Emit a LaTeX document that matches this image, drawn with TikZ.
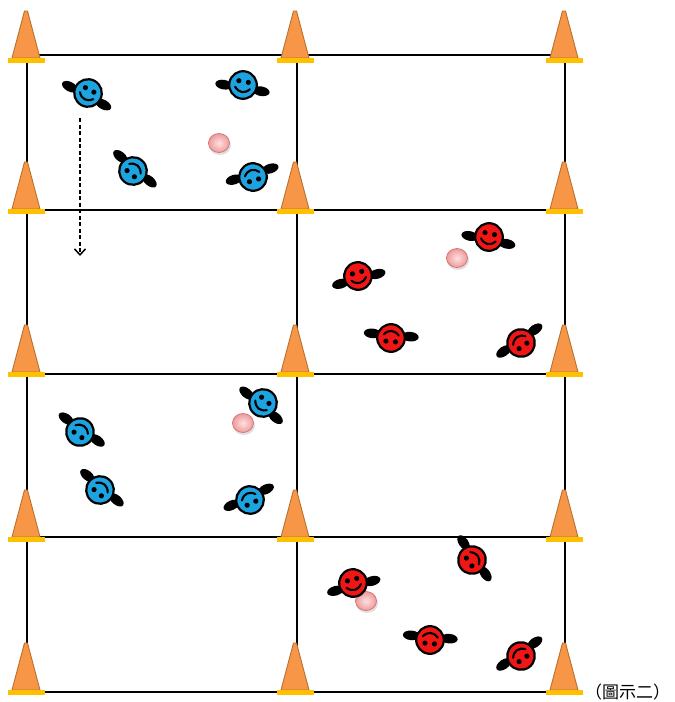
\documentclass[tikz,border=0pt]{standalone}
\usepackage{fontspec}
\newfontfamily\cjkfont{Noto Sans CJK TC}
\usetikzlibrary{arrows.meta}

\definecolor{pblue}{HTML}{1DA3E0}
\definecolor{pred}{HTML}{F01616}
\definecolor{coneorange}{HTML}{F79646}
\definecolor{coneedge}{HTML}{B8702F}
\definecolor{coneyellow}{HTML}{FFC000}
\definecolor{ballin}{HTML}{FDE2E2}
\definecolor{ballout}{HTML}{EE9A9A}
\definecolor{balledge}{HTML}{D47878}

\tikzset{
  gridline/.style={line width=1.8pt, black},
  runline/.style={dashed, dash pattern=on 4pt off 2.5pt, line width=1.6pt,
    -{Straight Barb[length=6pt,width=11pt,line width=1.5pt]}},
  % a player seen from above: head, two arms, face
  pics/player/.style={code={
    \fill[black] (-19,3) ellipse [x radius=8.5, y radius=4.8];
    \fill[black] (19,3) ellipse [x radius=8.5, y radius=4.8];
    \filldraw[fill=#1, draw=black, line width=2.2pt] (0,0) circle (13.8);
    \fill[black] (-4.8,-3.5) circle (2.6);
    \fill[black] (4.8,-3.5) circle (2.6);
    \draw[line width=2.1pt, line cap=round] (-7.5,3) .. controls (-3,8.5) and (3,8.5) .. (7.5,3);
  }},
  % a traffic cone standing on its yellow base
  pics/cone/.style={code={
    \filldraw[fill=coneorange, draw=coneedge, line width=0.9pt, line join=round]
      (-14,-2) -- (-1.5,-49) -- (1.5,-49) -- (14,-2) -- cycle;
    \fill[coneyellow] (-18.5,-2) rectangle (18.5,2.5);
  }},
  % a training ball
  pics/ball/.style={code={
    \fill[black, opacity=0.12] (1,2.5) ellipse [x radius=11, y radius=9.5];
    \shade[inner color=ballin, outer color=ballout] (0,0) ellipse [x radius=10.5, y radius=9.5];
    \draw[balledge, line width=0.8pt] (0,0) ellipse [x radius=10.5, y radius=9.5];
  }},
}

\begin{document}
\begin{tikzpicture}[x=1pt, y=-1pt]
\useasboundingbox (0,0) rectangle (675,702);

% grid of practice squares
\coordinate (c00) at (27,55);  \coordinate (c01) at (297,55);  \coordinate (c02) at (565,55);
\coordinate (c10) at (27,210); \coordinate (c11) at (297,210); \coordinate (c12) at (565,210);
\coordinate (c20) at (27,374); \coordinate (c21) at (297,374); \coordinate (c22) at (565,374);
\coordinate (c30) at (27,537); \coordinate (c31) at (297,537); \coordinate (c32) at (565,537);
\coordinate (c40) at (27,692); \coordinate (c41) at (297,692); \coordinate (c42) at (565,692);

\draw[gridline] (c00) -- (c02);
\draw[gridline] (c10) -- (c12);
\draw[gridline] (c20) -- (c22);
\draw[gridline] (c30) -- (c32);
\draw[gridline] (c40) -- (c42);
\draw[gridline] (c00) -- (c40);
\draw[gridline] (c01) -- (c41);
\draw[gridline] (c02) -- (c42);

% cones at the corners
\pic (k00) at (26,60)  {cone};  \pic (k01) at (295,60)  {cone};  \pic (k02) at (564,60)  {cone};
\pic (k10) at (26,211) {cone};  \pic (k11) at (295,211) {cone};  \pic (k12) at (564,211) {cone};
\pic (k20) at (26,374) {cone};  \pic (k21) at (295,374) {cone};  \pic (k22) at (564,374) {cone};
\pic (k30) at (26,539) {cone};  \pic (k31) at (295,539) {cone};  \pic (k32) at (564,539) {cone};
\pic (k40) at (26,692) {cone};  \pic (k41) at (295,692) {cone};  \pic (k42) at (564,692) {cone};

% running path
\coordinate (runstart) at (80,118);
\coordinate (runend) at (80,256);
\draw[runline] (runstart) -- (runend);

% balls
\pic (ballA) at (219,143) {ball};
\pic (ballB) at (457,258) {ball};
\pic (ballC) at (243,423) {ball};
\pic (ballD) at (366,601) {ball};

% blue team, first square
\pic (b1) [rotate=-28]  at (88,93)   {player=pblue};
\pic (b2) [rotate=-10]  at (243,85)  {player=pblue};
\pic (b3) [rotate=-163] at (253,177) {player=pblue};
\pic (b4) [rotate=-220] at (133,171) {player=pblue};

% red team, second square
\pic (r1) [rotate=-12]  at (489,237) {player=pred};
\pic (r2) [rotate=15]   at (358,276) {player=pred};
\pic (r3) [rotate=-185] at (391,338) {player=pred};
\pic (r4) [rotate=-145] at (521,343) {player=pred};

% blue team, third square
\pic (b5) [rotate=-40]  at (263,403) {player=pblue};
\pic (b6) [rotate=-215] at (80,432)  {player=pblue};
\pic (b7) [rotate=-220] at (100,490) {player=pblue};
\pic (b8) [rotate=-155] at (250,500) {player=pblue};

% red team, fourth square
\pic (r5) [rotate=-235] at (472,560) {player=pred};
\pic (r6) [rotate=15]   at (353,583) {player=pred};
\pic (r7) [rotate=-185] at (430,640) {player=pred};
\pic (r8) [rotate=-145] at (521,656) {player=pred};

% caption
\node (caption) [anchor=west, inner sep=0pt, font=\cjkfont\fontsize{17pt}{17pt}\selectfont] at (585,692) {（圖示二）};
\end{tikzpicture}
\end{document}
